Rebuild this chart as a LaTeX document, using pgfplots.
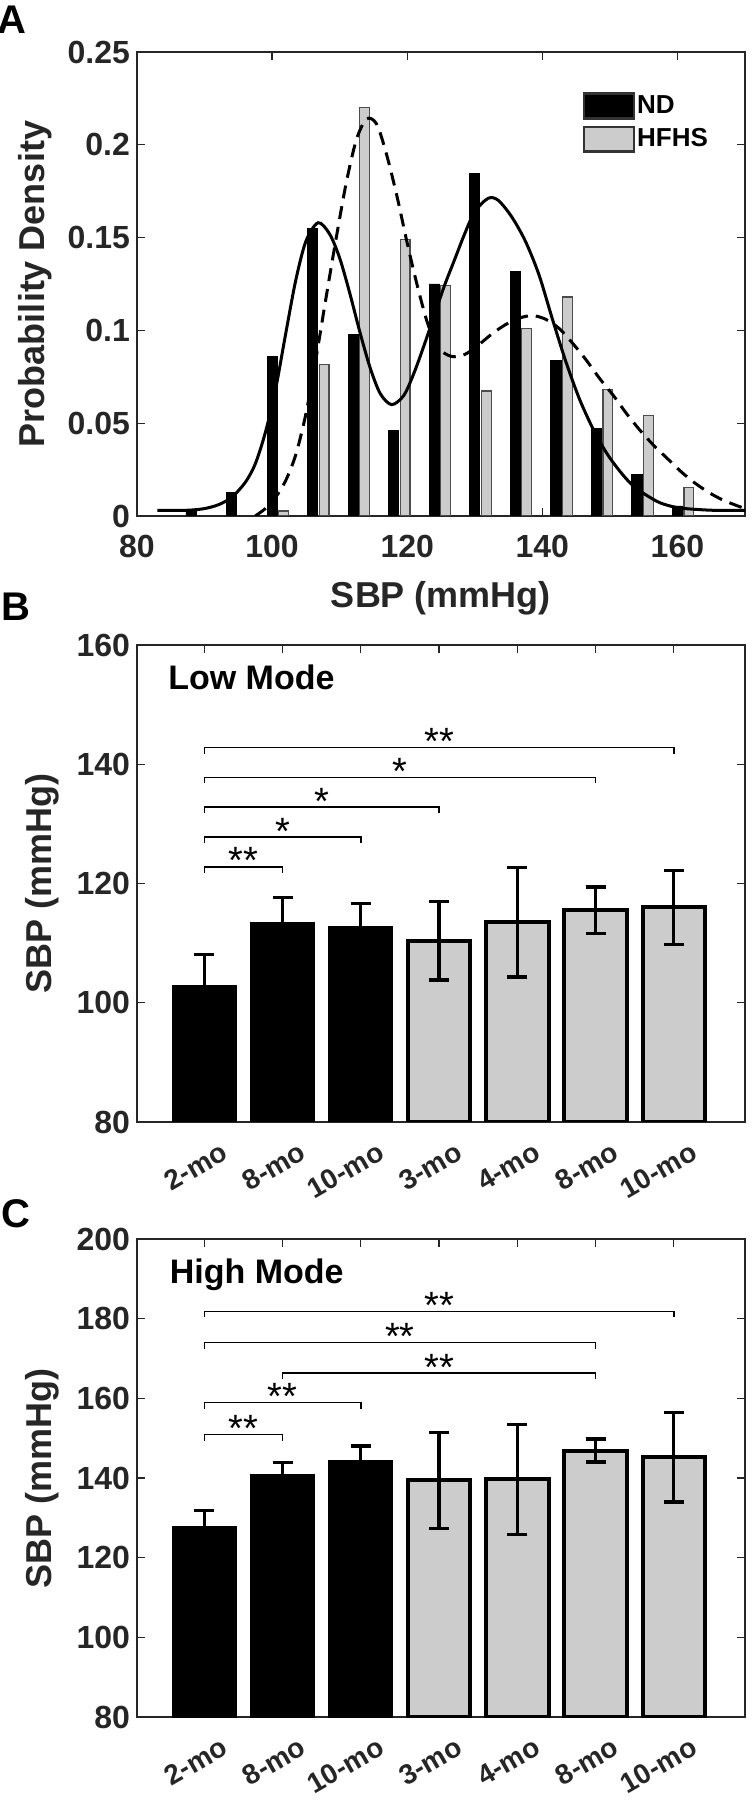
\documentclass[border=0pt]{standalone}
\usepackage{fontspec}
\setmainfont{Liberation Sans}
\usepackage{pgfplots}
\pgfplotsset{compat=1.18}

\definecolor{axgray}{gray}{0.15}
\definecolor{bargray}{gray}{0.8}

\tikzset{
  sig/.style={line width=0.75pt, black},
  star/.style={font=\fontsize{19}{19}\selectfont, anchor=base, inner sep=0pt, yshift=-3.6pt},
  lettr/.style={font=\bfseries\fontsize{20}{20}\selectfont},
}
\pgfplotsset{
  panel/.style={
    scale only axis, width=304pt, anchor=north west,
    axis line style={axgray, line width=0.65pt},
    tick style={axgray, line width=0.65pt},
    major tick length=4pt, tick align=inside,
    /pgf/number format/assume math mode=true,
    tick label style={font=\bfseries\fontsize{16}{16}\selectfont, text=axgray},
    ylabel style={font=\bfseries\fontsize{18}{18}\selectfont, text=axgray, anchor=center},
  },
  barpanel/.style={panel,
    xmin=0.14, xmax=7.91, xtick={1,2,3,4,5,6,7},
    xticklabels={2-mo,8-mo,10-mo,3-mo,4-mo,8-mo,10-mo},
    xticklabel style={rotate=30, anchor=north east, inner sep=0pt, yshift=-12pt, xshift=2pt,
      font=\bfseries\fontsize{14}{14}\selectfont},
    ylabel={SBP (mmHg)},
    ylabel style={at={(axis description cs:-0.156,0.5)}},
  },
  ndbar/.style={ybar, bar width=0.8, bar shift=0pt, fill=black, draw=black, line width=1.2pt,
    error bars/.cd, y dir=both, y explicit,
    error bar style={line width=1.65pt, black},
    error mark options={rotate=90, mark size=5pt, line width=1.65pt, black}},
  hfbar/.style={ybar, bar width=0.8, bar shift=0pt, fill=bargray, draw=black, line width=2pt,
    error bars/.cd, y dir=both, y explicit,
    error bar style={line width=1.65pt, black},
    error mark options={rotate=90, mark size=5pt, line width=1.65pt, black}},
}

\begin{document}
\begin{tikzpicture}
\path[use as bounding box] (0,0) rectangle (376pt,-903.5pt);

% ---------------- A: distributions
\begin{axis}[panel, at={(68.5pt,-26pt)}, height=232pt,
  xmin=80, xmax=170, ymin=0, ymax=0.25,
  xtick={80,100,120,140,160},
  ytick={0,0.05,0.1,0.15,0.2,0.25},
  yticklabels={0,0.05,0.1,0.15,0.2,0.25},
  xticklabel style={yshift=-6pt},
  xlabel={SBP (mmHg)},
  xlabel style={font=\bfseries\fontsize{18}{18}\selectfont, text=axgray,
    at={(axis description cs:0.5,-0.177)}, anchor=center},
  ylabel={Probability Density},
  ylabel style={at={(axis description cs:-0.168,0.5)}},
  legend style={at={(axis cs:145.9,0.2285)}, anchor=north west, draw=none, fill=none,
    inner sep=0pt, row sep=3pt,
    nodes={inner sep=1pt, text=black, font=\bfseries\fontsize{13}{13}\selectfont}},
  legend cell align=left,
  legend image code/.code={\draw[#1, line width=1.3pt, draw=black!80] (0pt,-6.2pt) rectangle (25pt,6.2pt);},
]
\addplot[ybar, bar width=1.5, bar shift=0pt, fill=black, draw=black, line width=0.4pt]
  coordinates {(88,0.003) (94,0.0127) (100,0.086) (106,0.155) (112,0.098) (118,0.046)
    (124,0.125) (130,0.1845) (136,0.132) (142,0.084) (148,0.047) (154,0.0226) (160,0.0054)};
\addlegendentry{ND}
\addplot[ybar, bar width=1.45, bar shift=0pt, fill=bargray, draw=black!70, line width=0.6pt]
  coordinates {(101.7,0.0027) (107.7,0.0815) (113.7,0.220) (119.7,0.149) (125.7,0.124)
    (131.7,0.0674) (137.7,0.101) (143.7,0.118) (149.7,0.068) (155.7,0.054) (161.7,0.0152)};
\addlegendentry{HFHS}
% fitted density, ND
\addplot[forget plot, smooth, black, line width=1.5pt] coordinates {
  (83,0.003) (86,0.003) (88,0.0032) (90,0.004) (92,0.006) (94,0.010) (96,0.018)
  (97.5,0.028) (99,0.045) (100.5,0.068) (102,0.098) (103.5,0.127) (105,0.148)
  (106.8,0.158) (108.5,0.152) (110,0.139) (111.5,0.120) (113,0.099) (114.5,0.080)
  (116,0.066) (117.7,0.060) (119.5,0.065) (121,0.077) (122.5,0.092) (124,0.108)
  (125.5,0.124) (127,0.138) (128.5,0.152) (130,0.164) (132,0.1712) (133.5,0.170)
  (135.5,0.161) (137.5,0.148) (139.5,0.130) (141.5,0.106) (143.5,0.083) (145.5,0.063)
  (147.5,0.047) (149.5,0.034) (151.5,0.024) (153.5,0.016) (155.5,0.011) (157.5,0.007)
  (160,0.0045) (163,0.0035) (166,0.003) (170,0.003)};
% fitted density, HFHS
\addplot[forget plot, smooth, black, line width=1.5pt, dash pattern=on 6.5pt off 4pt] coordinates {
  (97.5,0) (99,0.004) (100.5,0.010) (102,0.019) (103.5,0.033) (105,0.055) (106.5,0.085)
  (108,0.118) (109.5,0.150) (111,0.180) (112.5,0.203) (114,0.214) (115.5,0.211)
  (117,0.194) (118.5,0.172) (120,0.147) (121.5,0.124) (123,0.104) (124.5,0.091)
  (126.5,0.086) (128.5,0.087) (130.5,0.092) (132.5,0.098) (134.5,0.103) (136.5,0.1065)
  (138.5,0.108) (140.5,0.106) (142.5,0.101) (144.5,0.093) (146.5,0.084) (148.5,0.074)
  (150.5,0.065) (152.5,0.055) (154.5,0.046) (156.5,0.038) (158.5,0.031) (160.5,0.024)
  (162.5,0.018) (164.5,0.013) (166.5,0.009) (168.5,0.006) (170,0.004)};
\end{axis}

% ---------------- B: low mode
\begin{axis}[barpanel, at={(68.5pt,-322.5pt)}, height=238.5pt,
  ymin=80, ymax=160, ytick={80,100,120,140,160}]
\addplot[ndbar] coordinates {(1,102.8) +- (0,5.3) (2,113.3) +- (0,4.3) (3,112.6) +- (0,4.0)};
\addplot[hfbar] coordinates {(4,110.4) +- (0,6.6) (5,113.5) +- (0,9.2) (6,115.5) +- (0,3.9) (7,116.0) +- (0,6.2)};
\node[anchor=west, font=\bfseries\fontsize{17}{17}\selectfont] at (0.45,154.5) {Low Mode};
\draw[sig] (1,121.8) |- (2,122.8) -- (2,121.8);
\node[star] at (1.5,122.8) {**};
\draw[sig] (1,126.8) |- (3,127.8) -- (3,126.8);
\node[star] at (2,127.8) {*};
\draw[sig] (1,131.8) |- (4,132.8) -- (4,131.8);
\node[star] at (2.5,132.8) {*};
\draw[sig] (1,136.8) |- (6,137.8) -- (6,136.8);
\node[star] at (3.5,137.8) {*};
\draw[sig] (1,141.8) |- (7,142.8) -- (7,141.8);
\node[star] at (4,142.8) {**};
\end{axis}

% ---------------- C: high mode
\begin{axis}[barpanel, at={(68.5pt,-619.5pt)}, height=239pt,
  ymin=80, ymax=200, ytick={80,100,120,140,160,180,200}]
\addplot[ndbar] coordinates {(1,127.6) +- (0,4.2) (2,140.6) +- (0,3.3) (3,144.2) +- (0,3.8)};
\addplot[hfbar] coordinates {(4,139.4) +- (0,12.1) (5,139.7) +- (0,13.8) (6,146.9) +- (0,2.9) (7,145.2) +- (0,11.2)};
\node[anchor=west, font=\bfseries\fontsize{17}{17}\selectfont] at (0.47,191) {High Mode};
\draw[sig] (1,149.4) |- (2,150.9) -- (2,149.4);
\node[star] at (1.5,150.9) {**};
\draw[sig] (1,157.4) |- (3,158.9) -- (3,157.4);
\node[star] at (2,158.9) {**};
\draw[sig] (2,164.9) |- (6,166.4) -- (6,164.9);
\node[star] at (4,166.4) {**};
\draw[sig] (1,172.5) |- (6,174.0) -- (6,172.5);
\node[star] at (3.5,174.0) {**};
\draw[sig] (1,180.3) |- (7,181.8) -- (7,180.3);
\node[star] at (4,181.8) {**};
\end{axis}

\node[lettr] at (6pt,-10pt) {A};
\node[lettr] at (8pt,-303.5pt) {B};
\node[lettr] at (8pt,-607pt) {C};
\end{tikzpicture}
\end{document}
